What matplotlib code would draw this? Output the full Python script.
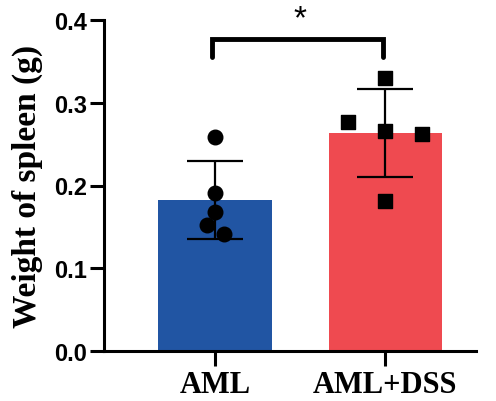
import matplotlib
matplotlib.use("Agg")
import matplotlib.pyplot as plt
import numpy as np

categories = ["AML", "AML+DSS"]
aml_values = [0.259, 0.191, 0.168, 0.152, 0.141]
dss_values = [0.330, 0.277, 0.266, 0.262, 0.181]
groups = [aml_values, dss_values]
y_ticks = [0.0, 0.1, 0.2, 0.3, 0.4]
y_label = "Weight of spleen (g)"
sig_label = "*"

bar_colors = ["#2155a3", "#ef4a50"]
markers = ["o", "s"]
jitter = [[0, 0, 0, -0.05, 0.05], [0, -0.22, 0, 0.22, 0]]

fig = plt.figure(figsize=(4.96, 4.02), dpi=100)
ax = fig.add_axes([104/496, 50/402, 372/496, 331/402])

x = np.arange(len(categories))
means = [np.mean(g) for g in groups]
sds = [np.std(g, ddof=1) for g in groups]

ax.bar(x, means, width=0.665, color=bar_colors, zorder=1)
ax.errorbar(x, means, yerr=sds, fmt="none", ecolor="black", elinewidth=1.6,
            capsize=20, capthick=1.6, zorder=2)
for i, g in enumerate(groups):
    ax.scatter(x[i] + np.array(jitter[i]), g, marker=markers[i], s=110 if i == 0 else 95,
               color="black", zorder=3, clip_on=False)

ax.set_xlim(-0.653, 1.535)
ax.set_ylim(0, 0.4)
ax.set_yticks(y_ticks)
ax.set_yticklabels([f"{t:.1f}" for t in y_ticks], fontfamily="Liberation Sans",
                   fontweight="bold", fontsize=17)
ax.set_xticks(x)
ax.set_xticklabels(categories, fontfamily="Liberation Serif", fontweight="bold", fontsize=22)
ax.set_ylabel(y_label, fontfamily="Liberation Serif", fontweight="bold", fontsize=24,
              labelpad=8)

for s in ["top", "right"]:
    ax.spines[s].set_visible(False)
for s in ["left", "bottom"]:
    ax.spines[s].set_linewidth(2.2)
ax.tick_params(axis="y", length=10, width=2.2, pad=2)
ax.tick_params(axis="x", length=11, width=2.2, pad=3)

# significance bracket
yb = 0.377
yt = 0.355
ax.plot([x[0] - 0.02, x[0] - 0.02, x[1] - 0.01, x[1] - 0.01], [yt, yb, yb, yt],
        color="black", lw=3.5, clip_on=False, solid_capstyle="round", solid_joinstyle="miter")
ax.text((x[0] + x[1]) / 2, 0.383, sig_label, ha="center", va="bottom", fontsize=24,
        fontfamily="Liberation Sans")

fig.savefig("out.png", dpi=100)
